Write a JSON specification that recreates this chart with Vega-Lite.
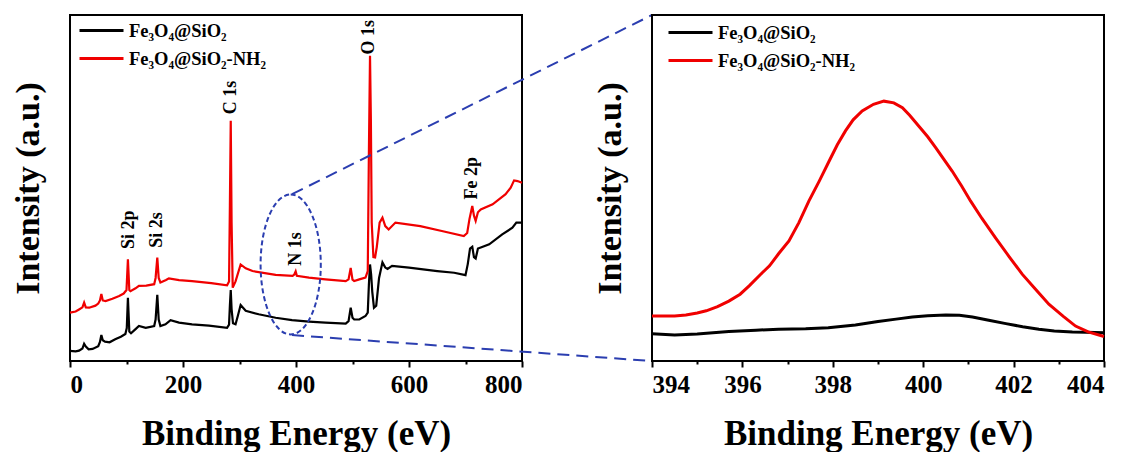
{
  "$schema": "https://vega.github.io/schema/vega-lite/v6.json",
  "padding": {"left": 10, "top": 13, "right": 5, "bottom": 0},
  "background": "white",
  "config": {
    "font": "Liberation Serif",
    "view": {"stroke": "black", "strokeWidth": 2},
    "axis": {"grid": false, "labelColor": "black", "titleColor": "black", "labelFontWeight": "bold", "titleFontWeight": "bold", "labelFontSize": 25, "titleFontSize": 35, "labelFont": "Liberation Serif", "titleFont": "Liberation Serif"},
    "axisX": {"domain": false, "tickColor": "black", "tickWidth": 2, "labelPadding": 5, "titlePadding": 19},
    "axisY": {"domain": false, "ticks": false, "labels": false, "minExtent": 0, "titlePadding": 25, "titleFontSize": 34},
    "legend": {"symbolType": "M-2,0H2", "symbolSize": 484, "symbolStrokeWidth": 3, "labelFont": "Liberation Serif", "labelFontSize": 18.5, "labelFontWeight": "bold", "labelColor": "black", "rowPadding": 6, "labelOffset": 15, "padding": 0, "labelLimit": 300}
  },
  "datasets": {
    "survey": [
      {"series": "Fe₃O₄@SiO₂", "energy": 0, "intensity": 2.9},
      {"series": "Fe₃O₄@SiO₂", "energy": 10, "intensity": 2.8},
      {"series": "Fe₃O₄@SiO₂", "energy": 16, "intensity": 3.0},
      {"series": "Fe₃O₄@SiO₂", "energy": 22, "intensity": 3.6},
      {"series": "Fe₃O₄@SiO₂", "energy": 25, "intensity": 5.0},
      {"series": "Fe₃O₄@SiO₂", "energy": 28, "intensity": 4.2},
      {"series": "Fe₃O₄@SiO₂", "energy": 33, "intensity": 3.4},
      {"series": "Fe₃O₄@SiO₂", "energy": 40, "intensity": 3.5},
      {"series": "Fe₃O₄@SiO₂", "energy": 50, "intensity": 4.3},
      {"series": "Fe₃O₄@SiO₂", "energy": 53, "intensity": 5.5},
      {"series": "Fe₃O₄@SiO₂", "energy": 55.5, "intensity": 7.5},
      {"series": "Fe₃O₄@SiO₂", "energy": 58, "intensity": 6.0},
      {"series": "Fe₃O₄@SiO₂", "energy": 62, "intensity": 5.6},
      {"series": "Fe₃O₄@SiO₂", "energy": 70, "intensity": 5.4},
      {"series": "Fe₃O₄@SiO₂", "energy": 80, "intensity": 6.3},
      {"series": "Fe₃O₄@SiO₂", "energy": 90, "intensity": 7.0},
      {"series": "Fe₃O₄@SiO₂", "energy": 98, "intensity": 7.8},
      {"series": "Fe₃O₄@SiO₂", "energy": 100.5, "intensity": 9.5},
      {"series": "Fe₃O₄@SiO₂", "energy": 102.5, "intensity": 18.3},
      {"series": "Fe₃O₄@SiO₂", "energy": 105, "intensity": 8.5},
      {"series": "Fe₃O₄@SiO₂", "energy": 108, "intensity": 8.0},
      {"series": "Fe₃O₄@SiO₂", "energy": 116, "intensity": 9.2},
      {"series": "Fe₃O₄@SiO₂", "energy": 122, "intensity": 10.1},
      {"series": "Fe₃O₄@SiO₂", "energy": 134, "intensity": 9.6},
      {"series": "Fe₃O₄@SiO₂", "energy": 149, "intensity": 10.1},
      {"series": "Fe₃O₄@SiO₂", "energy": 151.5, "intensity": 12.0},
      {"series": "Fe₃O₄@SiO₂", "energy": 154.5, "intensity": 19.1},
      {"series": "Fe₃O₄@SiO₂", "energy": 157, "intensity": 12.0},
      {"series": "Fe₃O₄@SiO₂", "energy": 160, "intensity": 10.1},
      {"series": "Fe₃O₄@SiO₂", "energy": 169, "intensity": 10.6},
      {"series": "Fe₃O₄@SiO₂", "energy": 178, "intensity": 11.8},
      {"series": "Fe₃O₄@SiO₂", "energy": 193, "intensity": 11.1},
      {"series": "Fe₃O₄@SiO₂", "energy": 216, "intensity": 10.6},
      {"series": "Fe₃O₄@SiO₂", "energy": 246, "intensity": 10.2},
      {"series": "Fe₃O₄@SiO₂", "energy": 278, "intensity": 9.6},
      {"series": "Fe₃O₄@SiO₂", "energy": 281.5, "intensity": 10.5},
      {"series": "Fe₃O₄@SiO₂", "energy": 283, "intensity": 16.0},
      {"series": "Fe₃O₄@SiO₂", "energy": 284.5, "intensity": 20.5},
      {"series": "Fe₃O₄@SiO₂", "energy": 286, "intensity": 15.0},
      {"series": "Fe₃O₄@SiO₂", "energy": 288.5, "intensity": 10.9},
      {"series": "Fe₃O₄@SiO₂", "energy": 293, "intensity": 10.6},
      {"series": "Fe₃O₄@SiO₂", "energy": 297, "intensity": 13.0},
      {"series": "Fe₃O₄@SiO₂", "energy": 302, "intensity": 16.2},
      {"series": "Fe₃O₄@SiO₂", "energy": 311, "intensity": 14.5},
      {"series": "Fe₃O₄@SiO₂", "energy": 334, "intensity": 13.5},
      {"series": "Fe₃O₄@SiO₂", "energy": 364, "intensity": 12.5},
      {"series": "Fe₃O₄@SiO₂", "energy": 393, "intensity": 11.8},
      {"series": "Fe₃O₄@SiO₂", "energy": 423, "intensity": 11.4},
      {"series": "Fe₃O₄@SiO₂", "energy": 452, "intensity": 11.1},
      {"series": "Fe₃O₄@SiO₂", "energy": 488, "intensity": 10.8},
      {"series": "Fe₃O₄@SiO₂", "energy": 493, "intensity": 11.5},
      {"series": "Fe₃O₄@SiO₂", "energy": 496.8, "intensity": 15.4},
      {"series": "Fe₃O₄@SiO₂", "energy": 500, "intensity": 12.5},
      {"series": "Fe₃O₄@SiO₂", "energy": 503, "intensity": 12.0},
      {"series": "Fe₃O₄@SiO₂", "energy": 512, "intensity": 12.0},
      {"series": "Fe₃O₄@SiO₂", "energy": 523, "intensity": 13.0},
      {"series": "Fe₃O₄@SiO₂", "energy": 527, "intensity": 14.0},
      {"series": "Fe₃O₄@SiO₂", "energy": 529, "intensity": 22.0},
      {"series": "Fe₃O₄@SiO₂", "energy": 531, "intensity": 27.9},
      {"series": "Fe₃O₄@SiO₂", "energy": 533, "intensity": 25.0},
      {"series": "Fe₃O₄@SiO₂", "energy": 535, "intensity": 20.0},
      {"series": "Fe₃O₄@SiO₂", "energy": 538, "intensity": 15.4},
      {"series": "Fe₃O₄@SiO₂", "energy": 542, "intensity": 16.0},
      {"series": "Fe₃O₄@SiO₂", "energy": 547, "intensity": 24.0},
      {"series": "Fe₃O₄@SiO₂", "energy": 553, "intensity": 28.5},
      {"series": "Fe₃O₄@SiO₂", "energy": 558, "intensity": 27.0},
      {"series": "Fe₃O₄@SiO₂", "energy": 562, "intensity": 26.6},
      {"series": "Fe₃O₄@SiO₂", "energy": 570, "intensity": 27.5},
      {"series": "Fe₃O₄@SiO₂", "energy": 600, "intensity": 27.0},
      {"series": "Fe₃O₄@SiO₂", "energy": 650, "intensity": 26.0},
      {"series": "Fe₃O₄@SiO₂", "energy": 680, "intensity": 25.5},
      {"series": "Fe₃O₄@SiO₂", "energy": 700, "intensity": 24.8},
      {"series": "Fe₃O₄@SiO₂", "energy": 704, "intensity": 28.0},
      {"series": "Fe₃O₄@SiO₂", "energy": 708, "intensity": 32.5},
      {"series": "Fe₃O₄@SiO₂", "energy": 712, "intensity": 33.0},
      {"series": "Fe₃O₄@SiO₂", "energy": 715, "intensity": 30.0},
      {"series": "Fe₃O₄@SiO₂", "energy": 718, "intensity": 29.6},
      {"series": "Fe₃O₄@SiO₂", "energy": 722, "intensity": 32.5},
      {"series": "Fe₃O₄@SiO₂", "energy": 727, "intensity": 32.8},
      {"series": "Fe₃O₄@SiO₂", "energy": 742, "intensity": 33.7},
      {"series": "Fe₃O₄@SiO₂", "energy": 765, "intensity": 36.6},
      {"series": "Fe₃O₄@SiO₂", "energy": 783, "intensity": 38.5},
      {"series": "Fe₃O₄@SiO₂", "energy": 790, "intensity": 40.0},
      {"series": "Fe₃O₄@SiO₂", "energy": 800, "intensity": 40.0},
      {"series": "Fe₃O₄@SiO₂-NH₂", "energy": 0, "intensity": 14.0},
      {"series": "Fe₃O₄@SiO₂-NH₂", "energy": 10, "intensity": 14.3},
      {"series": "Fe₃O₄@SiO₂-NH₂", "energy": 16, "intensity": 14.9},
      {"series": "Fe₃O₄@SiO₂-NH₂", "energy": 22, "intensity": 15.5},
      {"series": "Fe₃O₄@SiO₂-NH₂", "energy": 25, "intensity": 16.9},
      {"series": "Fe₃O₄@SiO₂-NH₂", "energy": 28, "intensity": 15.5},
      {"series": "Fe₃O₄@SiO₂-NH₂", "energy": 34, "intensity": 15.4},
      {"series": "Fe₃O₄@SiO₂-NH₂", "energy": 45, "intensity": 16.0},
      {"series": "Fe₃O₄@SiO₂-NH₂", "energy": 50, "intensity": 16.6},
      {"series": "Fe₃O₄@SiO₂-NH₂", "energy": 53, "intensity": 17.5},
      {"series": "Fe₃O₄@SiO₂-NH₂", "energy": 55.5, "intensity": 19.4},
      {"series": "Fe₃O₄@SiO₂-NH₂", "energy": 58, "intensity": 17.5},
      {"series": "Fe₃O₄@SiO₂-NH₂", "energy": 63, "intensity": 17.3},
      {"series": "Fe₃O₄@SiO₂-NH₂", "energy": 75, "intensity": 18.0},
      {"series": "Fe₃O₄@SiO₂-NH₂", "energy": 87, "intensity": 18.8},
      {"series": "Fe₃O₄@SiO₂-NH₂", "energy": 95, "intensity": 19.5},
      {"series": "Fe₃O₄@SiO₂-NH₂", "energy": 100, "intensity": 20.5},
      {"series": "Fe₃O₄@SiO₂-NH₂", "energy": 102.5, "intensity": 29.4},
      {"series": "Fe₃O₄@SiO₂-NH₂", "energy": 105, "intensity": 20.5},
      {"series": "Fe₃O₄@SiO₂-NH₂", "energy": 107, "intensity": 20.2},
      {"series": "Fe₃O₄@SiO₂-NH₂", "energy": 116, "intensity": 21.0},
      {"series": "Fe₃O₄@SiO₂-NH₂", "energy": 122, "intensity": 21.7},
      {"series": "Fe₃O₄@SiO₂-NH₂", "energy": 135, "intensity": 21.8},
      {"series": "Fe₃O₄@SiO₂-NH₂", "energy": 149, "intensity": 22.2},
      {"series": "Fe₃O₄@SiO₂-NH₂", "energy": 151.5, "intensity": 24.0},
      {"series": "Fe₃O₄@SiO₂-NH₂", "energy": 154.5, "intensity": 29.9},
      {"series": "Fe₃O₄@SiO₂-NH₂", "energy": 157, "intensity": 24.0},
      {"series": "Fe₃O₄@SiO₂-NH₂", "energy": 160, "intensity": 22.7},
      {"series": "Fe₃O₄@SiO₂-NH₂", "energy": 170, "intensity": 23.4},
      {"series": "Fe₃O₄@SiO₂-NH₂", "energy": 175, "intensity": 23.9},
      {"series": "Fe₃O₄@SiO₂-NH₂", "energy": 193, "intensity": 23.4},
      {"series": "Fe₃O₄@SiO₂-NH₂", "energy": 216, "intensity": 23.1},
      {"series": "Fe₃O₄@SiO₂-NH₂", "energy": 250, "intensity": 22.5},
      {"series": "Fe₃O₄@SiO₂-NH₂", "energy": 278, "intensity": 21.9},
      {"series": "Fe₃O₄@SiO₂-NH₂", "energy": 281.5, "intensity": 23.0},
      {"series": "Fe₃O₄@SiO₂-NH₂", "energy": 283, "intensity": 45.0},
      {"series": "Fe₃O₄@SiO₂-NH₂", "energy": 284.5, "intensity": 69.4},
      {"series": "Fe₃O₄@SiO₂-NH₂", "energy": 286, "intensity": 40.0},
      {"series": "Fe₃O₄@SiO₂-NH₂", "energy": 288, "intensity": 21.2},
      {"series": "Fe₃O₄@SiO₂-NH₂", "energy": 293, "intensity": 23.0},
      {"series": "Fe₃O₄@SiO₂-NH₂", "energy": 302, "intensity": 27.9},
      {"series": "Fe₃O₄@SiO₂-NH₂", "energy": 311, "intensity": 26.8},
      {"series": "Fe₃O₄@SiO₂-NH₂", "energy": 323, "intensity": 26.0},
      {"series": "Fe₃O₄@SiO₂-NH₂", "energy": 364, "intensity": 24.9},
      {"series": "Fe₃O₄@SiO₂-NH₂", "energy": 394, "intensity": 24.6},
      {"series": "Fe₃O₄@SiO₂-NH₂", "energy": 397, "intensity": 25.0},
      {"series": "Fe₃O₄@SiO₂-NH₂", "energy": 399.4, "intensity": 25.9},
      {"series": "Fe₃O₄@SiO₂-NH₂", "energy": 401.5, "intensity": 24.6},
      {"series": "Fe₃O₄@SiO₂-NH₂", "energy": 423, "intensity": 24.1},
      {"series": "Fe₃O₄@SiO₂-NH₂", "energy": 452, "intensity": 23.6},
      {"series": "Fe₃O₄@SiO₂-NH₂", "energy": 488, "intensity": 23.1},
      {"series": "Fe₃O₄@SiO₂-NH₂", "energy": 493, "intensity": 23.6},
      {"series": "Fe₃O₄@SiO₂-NH₂", "energy": 496.8, "intensity": 26.9},
      {"series": "Fe₃O₄@SiO₂-NH₂", "energy": 500, "intensity": 23.5},
      {"series": "Fe₃O₄@SiO₂-NH₂", "energy": 503, "intensity": 23.1},
      {"series": "Fe₃O₄@SiO₂-NH₂", "energy": 512, "intensity": 23.6},
      {"series": "Fe₃O₄@SiO₂-NH₂", "energy": 523, "intensity": 24.1},
      {"series": "Fe₃O₄@SiO₂-NH₂", "energy": 527, "intensity": 26.0},
      {"series": "Fe₃O₄@SiO₂-NH₂", "energy": 529, "intensity": 60.0},
      {"series": "Fe₃O₄@SiO₂-NH₂", "energy": 531, "intensity": 88.2},
      {"series": "Fe₃O₄@SiO₂-NH₂", "energy": 532.5, "intensity": 70.0},
      {"series": "Fe₃O₄@SiO₂-NH₂", "energy": 534, "intensity": 40.0},
      {"series": "Fe₃O₄@SiO₂-NH₂", "energy": 537, "intensity": 30.0},
      {"series": "Fe₃O₄@SiO₂-NH₂", "energy": 540, "intensity": 29.9},
      {"series": "Fe₃O₄@SiO₂-NH₂", "energy": 543, "intensity": 33.0},
      {"series": "Fe₃O₄@SiO₂-NH₂", "energy": 548, "intensity": 40.0},
      {"series": "Fe₃O₄@SiO₂-NH₂", "energy": 553, "intensity": 41.4},
      {"series": "Fe₃O₄@SiO₂-NH₂", "energy": 558, "intensity": 39.0},
      {"series": "Fe₃O₄@SiO₂-NH₂", "energy": 564, "intensity": 38.0},
      {"series": "Fe₃O₄@SiO₂-NH₂", "energy": 576, "intensity": 40.0},
      {"series": "Fe₃O₄@SiO₂-NH₂", "energy": 620, "intensity": 39.0},
      {"series": "Fe₃O₄@SiO₂-NH₂", "energy": 660, "intensity": 37.5},
      {"series": "Fe₃O₄@SiO₂-NH₂", "energy": 697, "intensity": 36.1},
      {"series": "Fe₃O₄@SiO₂-NH₂", "energy": 703, "intensity": 37.0},
      {"series": "Fe₃O₄@SiO₂-NH₂", "energy": 707, "intensity": 41.0},
      {"series": "Fe₃O₄@SiO₂-NH₂", "energy": 712, "intensity": 44.8},
      {"series": "Fe₃O₄@SiO₂-NH₂", "energy": 715, "intensity": 42.0},
      {"series": "Fe₃O₄@SiO₂-NH₂", "energy": 718, "intensity": 40.5},
      {"series": "Fe₃O₄@SiO₂-NH₂", "energy": 722, "intensity": 43.0},
      {"series": "Fe₃O₄@SiO₂-NH₂", "energy": 727, "intensity": 43.8},
      {"series": "Fe₃O₄@SiO₂-NH₂", "energy": 748, "intensity": 45.3},
      {"series": "Fe₃O₄@SiO₂-NH₂", "energy": 771, "intensity": 48.2},
      {"series": "Fe₃O₄@SiO₂-NH₂", "energy": 780, "intensity": 50.1},
      {"series": "Fe₃O₄@SiO₂-NH₂", "energy": 786, "intensity": 52.2},
      {"series": "Fe₃O₄@SiO₂-NH₂", "energy": 792, "intensity": 52.0},
      {"series": "Fe₃O₄@SiO₂-NH₂", "energy": 800, "intensity": 51.5}
    ],
    "n1s": [
      {"series": "Fe₃O₄@SiO₂", "energy": 394, "intensity": 7.9},
      {"series": "Fe₃O₄@SiO₂", "energy": 394.5, "intensity": 7.5},
      {"series": "Fe₃O₄@SiO₂", "energy": 395, "intensity": 7.8},
      {"series": "Fe₃O₄@SiO₂", "energy": 395.7, "intensity": 8.5},
      {"series": "Fe₃O₄@SiO₂", "energy": 396.3, "intensity": 8.9},
      {"series": "Fe₃O₄@SiO₂", "energy": 396.8, "intensity": 9.2},
      {"series": "Fe₃O₄@SiO₂", "energy": 397.4, "intensity": 9.3},
      {"series": "Fe₃O₄@SiO₂", "energy": 397.9, "intensity": 9.6},
      {"series": "Fe₃O₄@SiO₂", "energy": 398.5, "intensity": 10.4},
      {"series": "Fe₃O₄@SiO₂", "energy": 399.0, "intensity": 11.4},
      {"series": "Fe₃O₄@SiO₂", "energy": 399.4, "intensity": 12.1},
      {"series": "Fe₃O₄@SiO₂", "energy": 399.76, "intensity": 12.7},
      {"series": "Fe₃O₄@SiO₂", "energy": 400.1, "intensity": 13.1},
      {"series": "Fe₃O₄@SiO₂", "energy": 400.5, "intensity": 13.3},
      {"series": "Fe₃O₄@SiO₂", "energy": 400.8, "intensity": 13.2},
      {"series": "Fe₃O₄@SiO₂", "energy": 401.09, "intensity": 12.7},
      {"series": "Fe₃O₄@SiO₂", "energy": 401.45, "intensity": 11.8},
      {"series": "Fe₃O₄@SiO₂", "energy": 401.83, "intensity": 10.8},
      {"series": "Fe₃O₄@SiO₂", "energy": 402.2, "intensity": 9.9},
      {"series": "Fe₃O₄@SiO₂", "energy": 402.56, "intensity": 9.2},
      {"series": "Fe₃O₄@SiO₂", "energy": 402.9, "intensity": 8.7},
      {"series": "Fe₃O₄@SiO₂", "energy": 403.3, "intensity": 8.4},
      {"series": "Fe₃O₄@SiO₂", "energy": 403.6, "intensity": 8.3},
      {"series": "Fe₃O₄@SiO₂", "energy": 404, "intensity": 8.2},
      {"series": "Fe₃O₄@SiO₂-NH₂", "energy": 394, "intensity": 13.0},
      {"series": "Fe₃O₄@SiO₂-NH₂", "energy": 394.5, "intensity": 13.0},
      {"series": "Fe₃O₄@SiO₂-NH₂", "energy": 394.75, "intensity": 13.3},
      {"series": "Fe₃O₄@SiO₂-NH₂", "energy": 395.0, "intensity": 13.9},
      {"series": "Fe₃O₄@SiO₂-NH₂", "energy": 395.2, "intensity": 14.5},
      {"series": "Fe₃O₄@SiO₂-NH₂", "energy": 395.45, "intensity": 15.7},
      {"series": "Fe₃O₄@SiO₂-NH₂", "energy": 395.7, "intensity": 17.3},
      {"series": "Fe₃O₄@SiO₂-NH₂", "energy": 395.95, "intensity": 19.3},
      {"series": "Fe₃O₄@SiO₂-NH₂", "energy": 396.15, "intensity": 21.7},
      {"series": "Fe₃O₄@SiO₂-NH₂", "energy": 396.4, "intensity": 25.0},
      {"series": "Fe₃O₄@SiO₂-NH₂", "energy": 396.6, "intensity": 27.5},
      {"series": "Fe₃O₄@SiO₂-NH₂", "energy": 396.8, "intensity": 31.0},
      {"series": "Fe₃O₄@SiO₂-NH₂", "energy": 397.03, "intensity": 34.7},
      {"series": "Fe₃O₄@SiO₂-NH₂", "energy": 397.25, "intensity": 40.0},
      {"series": "Fe₃O₄@SiO₂-NH₂", "energy": 397.47, "intensity": 46.2},
      {"series": "Fe₃O₄@SiO₂-NH₂", "energy": 397.7, "intensity": 52.0},
      {"series": "Fe₃O₄@SiO₂-NH₂", "energy": 397.92, "intensity": 57.8},
      {"series": "Fe₃O₄@SiO₂-NH₂", "energy": 398.1, "intensity": 62.5},
      {"series": "Fe₃O₄@SiO₂-NH₂", "energy": 398.28, "intensity": 66.5},
      {"series": "Fe₃O₄@SiO₂-NH₂", "energy": 398.45, "intensity": 69.7},
      {"series": "Fe₃O₄@SiO₂-NH₂", "energy": 398.65, "intensity": 72.3},
      {"series": "Fe₃O₄@SiO₂-NH₂", "energy": 398.9, "intensity": 74.2},
      {"series": "Fe₃O₄@SiO₂-NH₂", "energy": 399.13, "intensity": 75.1},
      {"series": "Fe₃O₄@SiO₂-NH₂", "energy": 399.35, "intensity": 74.6},
      {"series": "Fe₃O₄@SiO₂-NH₂", "energy": 399.54, "intensity": 73.2},
      {"series": "Fe₃O₄@SiO₂-NH₂", "energy": 399.7, "intensity": 71.0},
      {"series": "Fe₃O₄@SiO₂-NH₂", "energy": 399.9, "intensity": 67.9},
      {"series": "Fe₃O₄@SiO₂-NH₂", "energy": 400.1, "intensity": 64.8},
      {"series": "Fe₃O₄@SiO₂-NH₂", "energy": 400.28, "intensity": 61.6},
      {"series": "Fe₃O₄@SiO₂-NH₂", "energy": 400.45, "intensity": 58.4},
      {"series": "Fe₃O₄@SiO₂-NH₂", "energy": 400.64, "intensity": 54.9},
      {"series": "Fe₃O₄@SiO₂-NH₂", "energy": 400.85, "intensity": 50.6},
      {"series": "Fe₃O₄@SiO₂-NH₂", "energy": 401.05, "intensity": 46.2},
      {"series": "Fe₃O₄@SiO₂-NH₂", "energy": 401.3, "intensity": 41.2},
      {"series": "Fe₃O₄@SiO₂-NH₂", "energy": 401.6, "intensity": 35.6},
      {"series": "Fe₃O₄@SiO₂-NH₂", "energy": 401.9, "intensity": 30.2},
      {"series": "Fe₃O₄@SiO₂-NH₂", "energy": 402.19, "intensity": 25.1},
      {"series": "Fe₃O₄@SiO₂-NH₂", "energy": 402.5, "intensity": 20.5},
      {"series": "Fe₃O₄@SiO₂-NH₂", "energy": 402.78, "intensity": 16.4},
      {"series": "Fe₃O₄@SiO₂-NH₂", "energy": 403.1, "intensity": 12.9},
      {"series": "Fe₃O₄@SiO₂-NH₂", "energy": 403.37, "intensity": 10.1},
      {"series": "Fe₃O₄@SiO₂-NH₂", "energy": 403.65, "intensity": 8.4},
      {"series": "Fe₃O₄@SiO₂-NH₂", "energy": 404, "intensity": 7.1}
    ],
    "peaks": [
      {"label": "Si 2p", "energy": 104, "intensity": 32.4},
      {"label": "Si 2s", "energy": 154.6, "intensity": 32.7},
      {"label": "C 1s", "energy": 284.4, "intensity": 71.3},
      {"label": "N 1s", "energy": 399.4, "intensity": 27.5},
      {"label": "O 1s", "energy": 529.2, "intensity": 88.6},
      {"label": "Fe 2p", "energy": 712, "intensity": 46.7}
    ],
    "zoomlines": [
      {"e1": 393, "i1": 48.2, "e2": 1030, "i2": 100},
      {"e1": 393, "i1": 7.5, "e2": 1030, "i2": 0}
    ],
    "ellipse": [
      {"energy": 390.6, "intensity": 27.9}
    ]
  },
  "hconcat": [
    {
      "width": 452,
      "height": 346,
      "layer": [
        {
          "data": {"name": "survey"},
          "mark": {"type": "line", "strokeWidth": 2.2},
          "encoding": {
            "x": {"field": "energy", "type": "quantitative", "scale": {"domain": [0, 800], "nice": false, "zero": false},
                  "axis": {"title": "Binding Energy (eV)", "values": [0, 100, 200, 300, 400, 500, 600, 700, 800], "labelExpr": "datum.value % 200 === 0 ? datum.label : ''", "tickSize": {"condition": {"test": "datum.value % 200 === 0", "value": 6}, "value": 3}}},
            "y": {"field": "intensity", "type": "quantitative", "scale": {"domain": [0, 100], "nice": false, "zero": false}, "axis": {"title": "Intensity (a.u.)"}},
            "color": {"field": "series", "type": "nominal", "scale": {"domain": ["Fe₃O₄@SiO₂", "Fe₃O₄@SiO₂-NH₂"], "range": ["#000000", "#f00000"]},
                      "legend": {"title": null, "orient": "none", "legendX": 19, "legendY": 3}}
          }
        },
        {
          "data": {"name": "peaks"},
          "mark": {"type": "text", "angle": 270, "align": "left", "baseline": "middle", "fontSize": 18, "fontWeight": "bold", "color": "#000000", "font": "Liberation Serif"},
          "encoding": {
            "x": {"field": "energy", "type": "quantitative", "title": "Binding Energy (eV)"},
            "y": {"field": "intensity", "type": "quantitative", "title": "Intensity (a.u.)"},
            "text": {"field": "label"}
          }
        },
        {
          "data": {"name": "zoomlines"},
          "mark": {"type": "rule", "color": "#2b3eb0", "strokeWidth": 2, "strokeDash": [12, 7]},
          "encoding": {
            "x": {"field": "e1", "type": "quantitative", "title": "Binding Energy (eV)"},
            "y": {"field": "i1", "type": "quantitative", "title": "Intensity (a.u.)"},
            "x2": {"field": "e2"},
            "y2": {"field": "i2"}
          }
        },
        {
          "data": {"name": "ellipse"},
          "mark": {"type": "point", "shape": "M0,-1 C0.2375,-1 0.43,-0.5523 0.43,0 C0.43,0.5523 0.2375,1 0,1 C-0.2375,1 -0.43,0.5523 -0.43,0 C-0.43,-0.5523 -0.2375,-1 0,-1 Z", "size": 19600, "filled": false, "color": "#2b3eb0", "strokeWidth": 2, "strokeDash": [5, 3], "opacity": 1},
          "encoding": {
            "x": {"field": "energy", "type": "quantitative", "title": "Binding Energy (eV)"},
            "y": {"field": "intensity", "type": "quantitative", "title": "Intensity (a.u.)"}
          }
        }
      ]
    },
    {
      "width": 452,
      "height": 346,
      "data": {"name": "n1s"},
      "mark": {"type": "line", "strokeWidth": 3},
      "encoding": {
        "x": {"field": "energy", "type": "quantitative", "scale": {"domain": [394, 404], "nice": false, "zero": false},
              "axis": {"title": "Binding Energy (eV)", "values": [394, 395, 396, 397, 398, 399, 400, 401, 402, 403, 404], "labelExpr": "datum.value % 2 === 0 ? datum.label : ''", "tickSize": {"condition": {"test": "datum.value % 2 === 0", "value": 6}, "value": 3}}},
        "y": {"field": "intensity", "type": "quantitative", "scale": {"domain": [0, 100], "nice": false, "zero": false}, "axis": {"title": "Intensity (a.u.)"}},
        "color": {"field": "series", "type": "nominal", "scale": {"domain": ["Fe₃O₄@SiO₂", "Fe₃O₄@SiO₂-NH₂"], "range": ["#000000", "#f00000"]},
                  "legend": {"title": null, "orient": "none", "legendX": 26, "legendY": 5}}
      }
    }
  ],
  "spacing": 130,
  "bounds": "flush",
  "resolve": {"scale": {"color": "independent"}, "legend": {"color": "independent"}}
}
